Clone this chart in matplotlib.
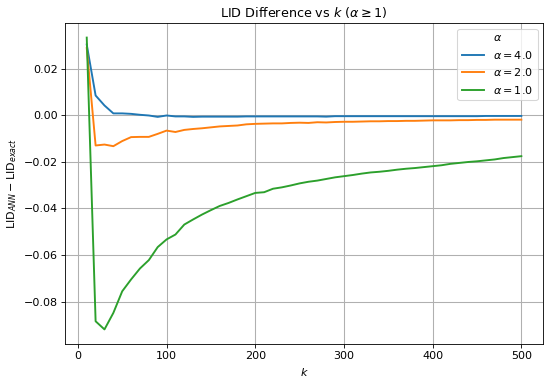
import numpy as np
import matplotlib.pyplot as plt

# k values (10..500 step 10)
k = np.arange(10, 510, 10)

# LID_ANN - LID_exact
diff_a4 = [0.0305, 0.0086, 0.0043, 0.0009, 0.0009, 0.0007, 0.0003, 0.0000, -0.0006, 0.0000,
           -0.0004, -0.0004, -0.0006, -0.0005, -0.0005, -0.0005, -0.0005, -0.0005, -0.0004, -0.0004,
           -0.0004, -0.0004, -0.0004, -0.0004, -0.0004, -0.0004, -0.0004, -0.0005, -0.0003, -0.0003,
           -0.0003, -0.0003, -0.0003, -0.0003, -0.0003, -0.0003, -0.0003, -0.0003, -0.0003, -0.0003,
           -0.0003, -0.0003, -0.0003, -0.0003, -0.0003, -0.0002, -0.0002, -0.0002, -0.0002, -0.0002]
diff_a2 = [0.0290, -0.0129, -0.0125, -0.0132, -0.0110, -0.0093, -0.0092, -0.0092, -0.0079, -0.0065,
           -0.0071, -0.0062, -0.0058, -0.0055, -0.0051, -0.0047, -0.0045, -0.0043, -0.0038, -0.0036,
           -0.0035, -0.0034, -0.0034, -0.0032, -0.0031, -0.0032, -0.0029, -0.0030, -0.0028, -0.0027,
           -0.0027, -0.0026, -0.0025, -0.0025, -0.0024, -0.0024, -0.0023, -0.0023, -0.0022, -0.0021,
           -0.0021, -0.0021, -0.0020, -0.0020, -0.0019, -0.0019, -0.0018, -0.0018, -0.0018, -0.0018]
diff_a1 = [0.0335, -0.0885, -0.0920, -0.0849, -0.0756, -0.0705, -0.0658, -0.0622, -0.0566, -0.0533,
           -0.0512, -0.0469, -0.0447, -0.0426, -0.0407, -0.0389, -0.0376, -0.0361, -0.0347, -0.0333,
           -0.0330, -0.0315, -0.0309, -0.0301, -0.0292, -0.0285, -0.0280, -0.0273, -0.0266, -0.0261,
           -0.0256, -0.0250, -0.0245, -0.0242, -0.0238, -0.0233, -0.0229, -0.0226, -0.0222, -0.0218,
           -0.0214, -0.0208, -0.0204, -0.0200, -0.0197, -0.0193, -0.0189, -0.0183, -0.0179, -0.0175]

alphas = ["4.0", "2.0", "1.0"]
series = [diff_a4, diff_a2, diff_a1]

# reference looks like a default-style figure scaled down, so draw at a lower dpi
fig = plt.figure(figsize=(7.2, 383 / 76.4), dpi=76.4)
# axes box placed to match the reference (pixels: left 65, right 543, top 23, bottom 344)
ax = fig.add_axes([65 / 550, 1 - 344 / 383, (543 - 65) / 550, (344 - 23) / 383])
for a, d in zip(alphas, series):
    ax.plot(k, d, lw=1.8, label=rf"$\alpha = {a}$")

ax.set_title(r"LID Difference vs $k$ ($\alpha \geq 1$)", fontsize=12)
ax.set_xlabel(r"$k$", fontsize=10.5)
ax.set_ylabel(r"$\mathrm{LID}_{ANN} - \mathrm{LID}_{exact}$", fontsize=10.5)
ax.tick_params(labelsize=10.5)
ax.legend(title=r"$\alpha$", loc="upper right", fontsize=10.5, title_fontsize=10.5)
ax.grid(True, lw=1.0)

plt.savefig("out.png")
